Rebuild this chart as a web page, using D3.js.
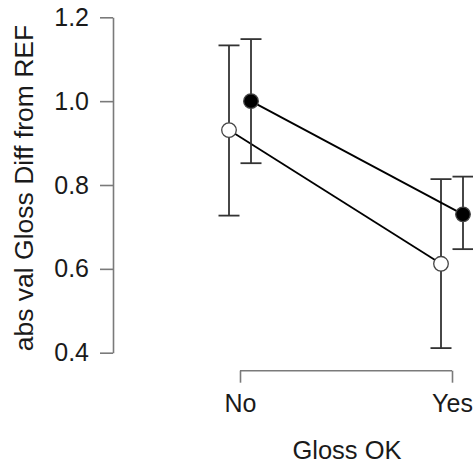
<!DOCTYPE html>
<html>
  <head>
    <meta charset="utf-8" />
    <title>gloss plot</title>
    <script src="https://d3js.org/d3.v7.min.js"></script>
    <style>
      body {
        margin: 0;
        background: #fff;
      }
      text {
        font-family: "Liberation Sans", Arial, sans-serif;
      }
    </style>
  </head>
  <body>

    <svg id="chart"></svg>

    <script>

      // data
      var categories = ["No", "Yes"];
      var yTicks = [0.4, 0.6, 0.8, 1.0, 1.2];

      var openMean = [0.931, 0.612];
      var openLower = [0.727, 0.411];
      var openUpper = [1.133, 0.814];

      var filledMean = [1.0, 0.730];
      var filledLower = [0.852, 0.647];
      var filledUpper = [1.148, 0.820];

      var width = 473;
      var height = 463;
      var fontSize = 25;

      var svg = d3.select("#chart")
        .attr("width", width)
        .attr("height", height);

      var x = d3.scalePoint()
        .domain(categories)
        .range([240, 452]);

      var y = d3.scaleLinear()
        .domain([0.4, 1.2])
        .range([352.7, 17.3]);

      var dodge = 11;

      var series = [
        { offset: -dodge, fill: "#fff", mean: openMean, lower: openLower, upper: openUpper },
        { offset: dodge, fill: "#000", mean: filledMean, lower: filledLower, upper: filledUpper }
      ];

      // y axis
      var yAxis = d3.axisLeft(y)
        .tickValues(yTicks)
        .tickFormat(d3.format(".1f"))
        .tickSizeInner(13)
        .tickSizeOuter(0)
        .tickPadding(11);

      var gy = svg.append("g")
        .attr("transform", "translate(113,0)")
        .call(yAxis);
      gy.selectAll("path, line").attr("stroke", "#7a7a7a").attr("stroke-width", 1.6);
      gy.selectAll("text")
        .attr("font-size", fontSize + "px")
        .attr("fill", "#1a1a1a")
        .style("font-family", "'Liberation Sans', Arial, sans-serif");

      // x axis
      var xAxis = d3.axisBottom(x)
        .tickSizeInner(12)
        .tickSizeOuter(0)
        .tickPadding(12);

      var gx = svg.append("g")
        .attr("transform", "translate(0,370.7)")
        .call(xAxis);
      gx.select(".domain").attr("d", "M" + x("No") + ",0H" + x("Yes"));
      gx.selectAll("path, line").attr("stroke", "#7a7a7a").attr("stroke-width", 1.6);
      gx.selectAll("text")
        .attr("font-size", fontSize + "px")
        .attr("fill", "#1a1a1a")
        .style("font-family", "'Liberation Sans', Arial, sans-serif");

      // axis titles
      svg.append("text")
        .attr("transform", "translate(33,188) rotate(-90)")
        .attr("text-anchor", "middle")
        .attr("font-size", "26.5px")
        .attr("fill", "#1a1a1a")
        .text("abs val Gloss Diff from REF");

      svg.append("text")
        .attr("x", 347)
        .attr("y", 459)
        .attr("text-anchor", "middle")
        .attr("font-size", "25.5px")
        .attr("fill", "#1a1a1a")
        .text("Gloss OK");

      var line = d3.line()
        .x(function(d) { return d.x; })
        .y(function(d) { return y(d.v); });

      series.forEach(function(s) {
        var g = svg.append("g");
        var pts = categories.map(function(c, i) {
          return { x: x(c) + s.offset, v: s.mean[i], lo: s.lower[i], hi: s.upper[i] };
        });

        // error bars
        g.selectAll(".bar")
          .data(pts)
          .enter().append("line")
          .attr("x1", function(d) { return d.x; })
          .attr("x2", function(d) { return d.x; })
          .attr("y1", function(d) { return y(d.lo); })
          .attr("y2", function(d) { return y(d.hi); })
          .attr("stroke", "#333")
          .attr("stroke-width", 1.8);

        [ "lo", "hi" ].forEach(function(k) {
          g.selectAll(".cap-" + k)
            .data(pts)
            .enter().append("line")
            .attr("x1", function(d) { return d.x - 10.5; })
            .attr("x2", function(d) { return d.x + 10.5; })
            .attr("y1", function(d) { return y(d[k]); })
            .attr("y2", function(d) { return y(d[k]); })
            .attr("stroke", "#333")
            .attr("stroke-width", 1.8);
        });

        g.append("path")
          .datum(pts)
          .attr("d", line)
          .attr("fill", "none")
          .attr("stroke", "#000")
          .attr("stroke-width", 1.8);

        g.selectAll("circle")
          .data(pts)
          .enter().append("circle")
          .attr("cx", function(d) { return d.x; })
          .attr("cy", function(d) { return y(d.v); })
          .attr("r", 7.3)
          .attr("fill", s.fill)
          .attr("stroke", "#444")
          .attr("stroke-width", 1.3);
      });

    </script>

  </body>
</html>
